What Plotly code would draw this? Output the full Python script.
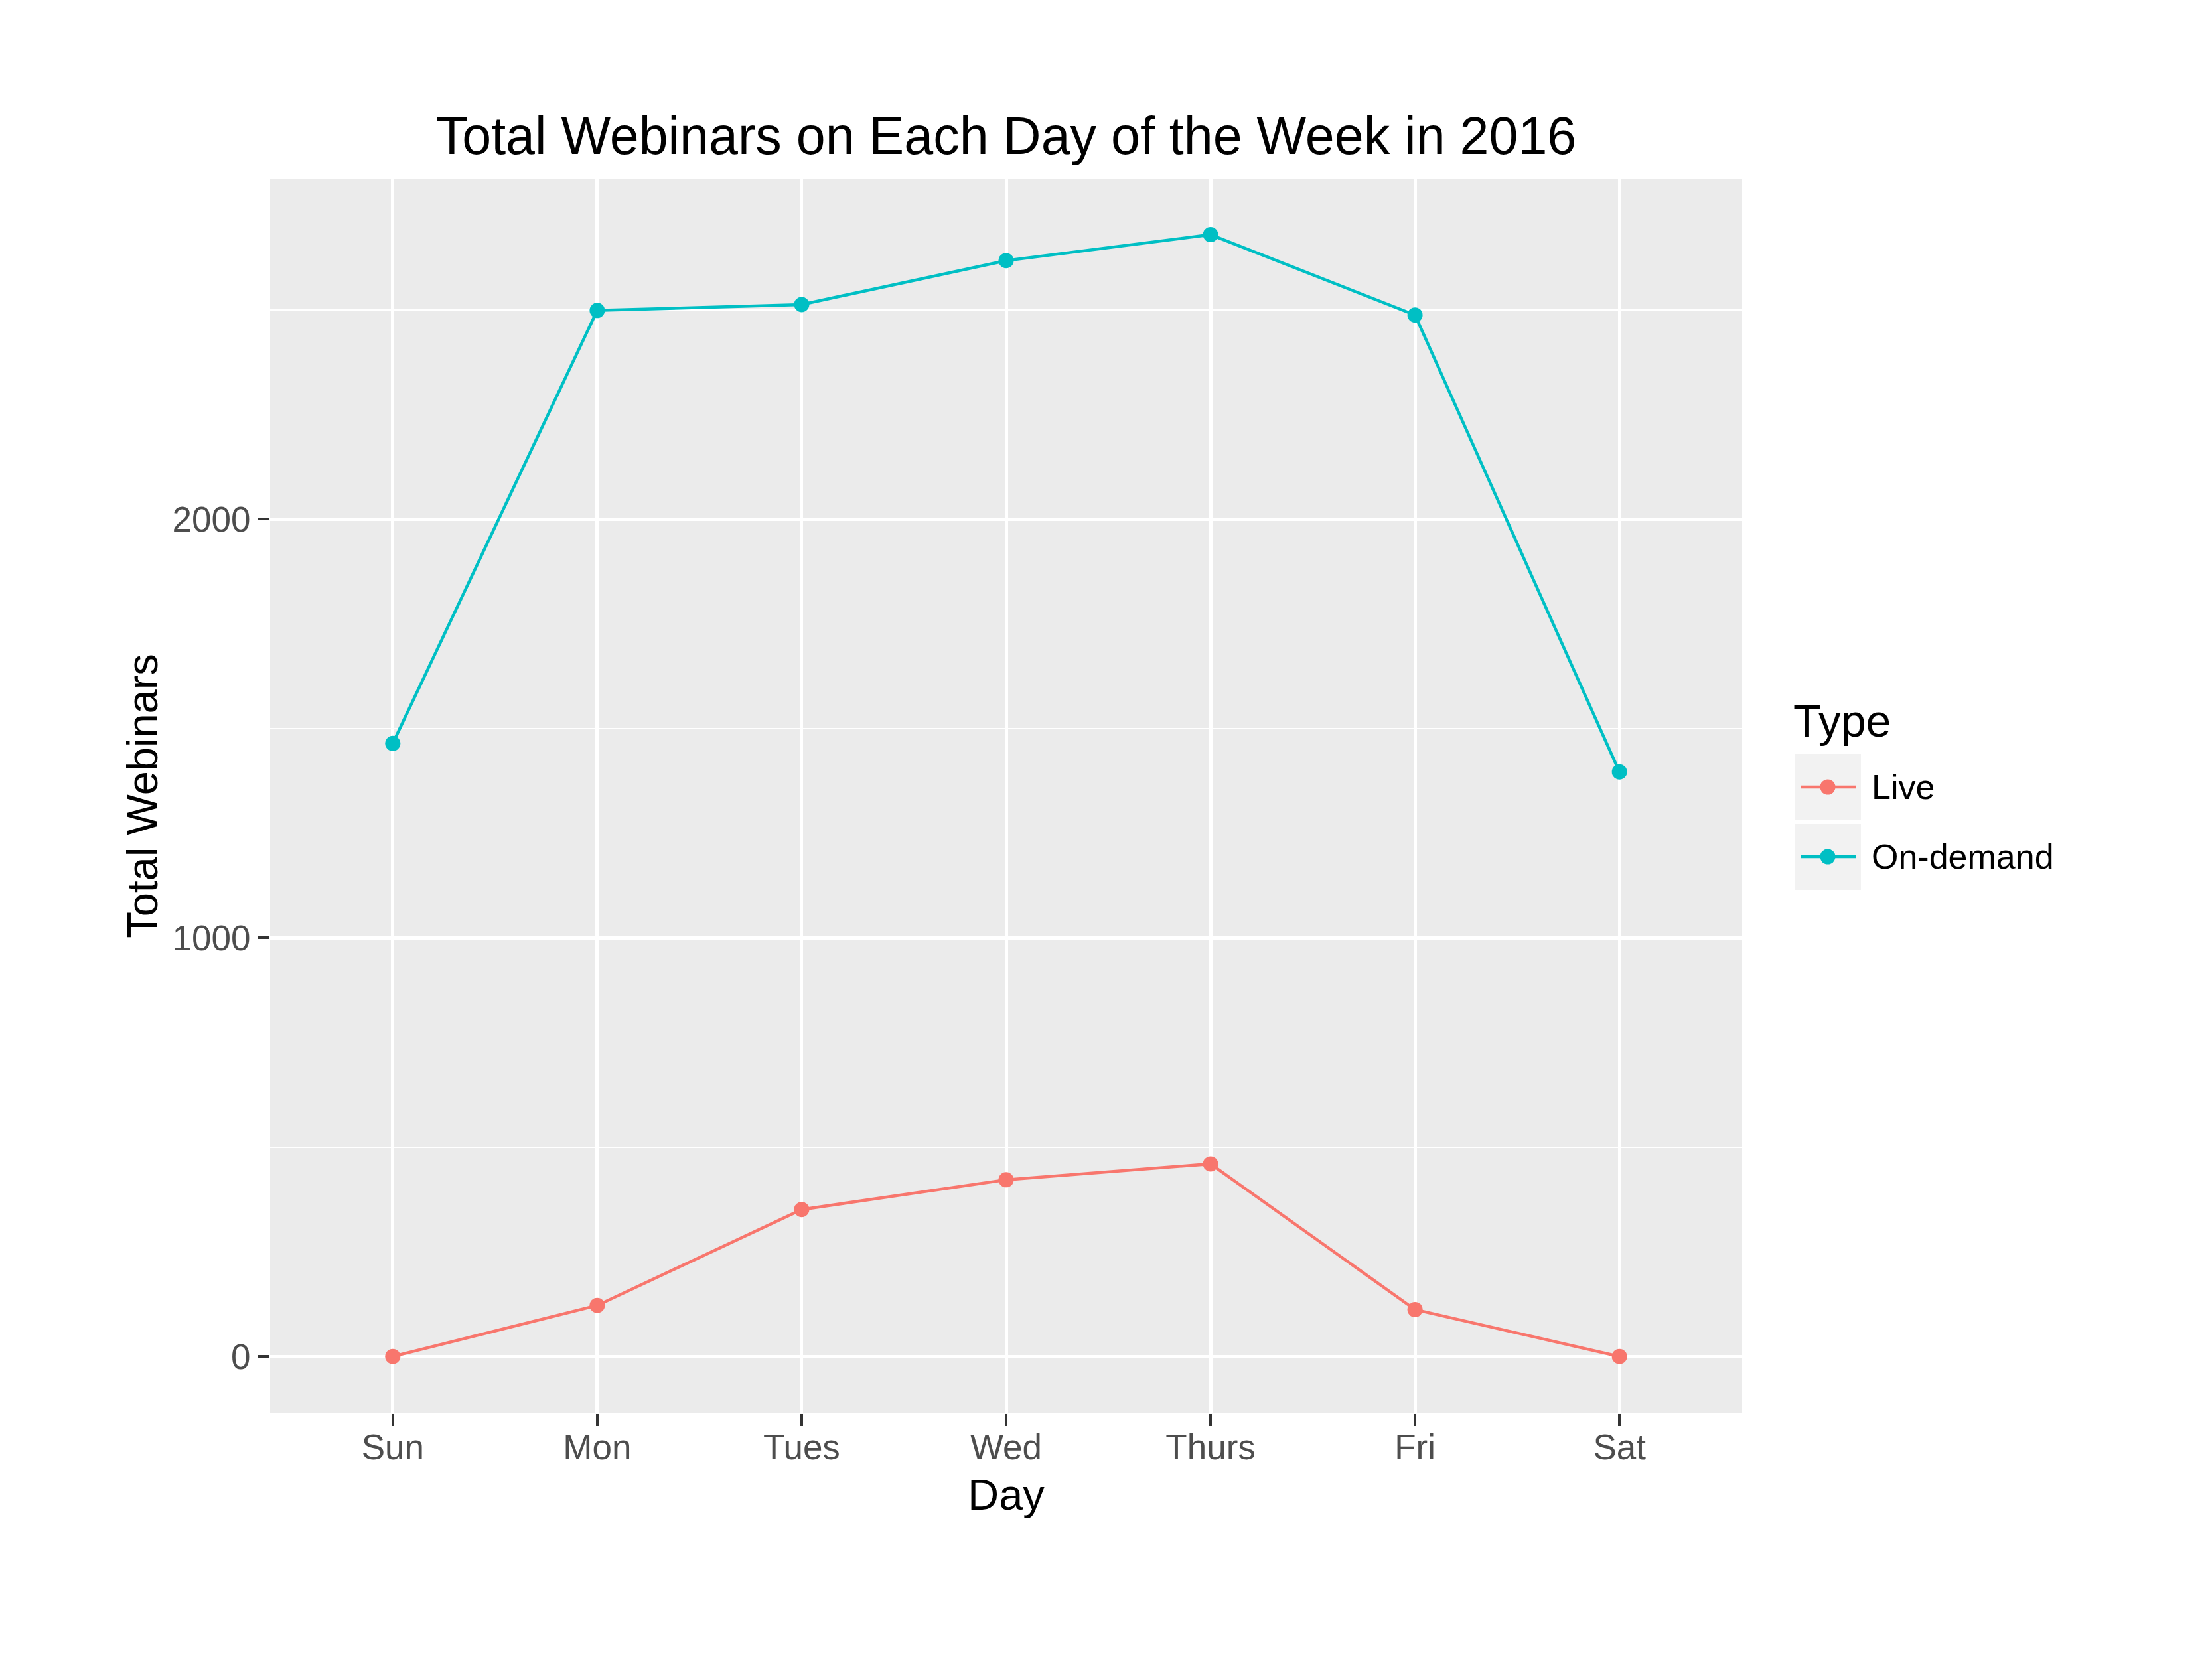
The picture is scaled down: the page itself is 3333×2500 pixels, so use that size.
import plotly.graph_objects as go

days = ["Sun", "Mon", "Tues", "Wed", "Thurs", "Fri", "Sat"]
live = [0, 122, 351, 422, 460, 112, 0]
on_demand = [1464, 2498, 2512, 2617, 2679, 2487, 1396]
series_names = ["Live", "On-demand"]
series_colors = ["#F8766D", "#00BFC4"]
y_ticks = [0, 1000, 2000]

FONT = "Liberation Sans, Arial, sans-serif"
W, H = 3333, 2500
OFF = 8  # page body margin
# plot panel in page pixels
PL, PR, PT, PB = 407, 2625, 269, 2130
L, R, T, B = PL - OFF, PR - OFF, PT - OFF, PB - OFF


def px(X):
    return (X - OFF - L) / (R - L)


def py(Y):
    return (B - (Y - OFF)) / (B - T)


fig = go.Figure()
for name, vals, col in zip(series_names, [live, on_demand], series_colors):
    fig.add_trace(go.Scatter(
        x=days, y=vals, name=name, mode="lines+markers",
        line=dict(color=col, width=4.5),
        marker=dict(color=col, size=23),
        showlegend=False,
    ))

# manual ggplot-style legend
shapes = []
annotations = []
annotations.append(dict(text="Type", x=px(2700), y=py(1086), xref="paper", yref="paper",
                        xanchor="left", yanchor="middle", showarrow=False,
                        font=dict(size=68, color="black", family=FONT)))
key_tops = [1136, 1241]
for name, col, top in zip(series_names, series_colors, key_tops):
    cy = top + 50
    shapes.append(dict(type="rect", xref="paper", yref="paper",
                       x0=px(2704), x1=px(2804), y0=py(top), y1=py(top + 100),
                       fillcolor="#F2F2F2", line=dict(width=0), layer="above"))
    shapes.append(dict(type="line", xref="paper", yref="paper",
                       x0=px(2713), x1=px(2797), y0=py(cy), y1=py(cy),
                       line=dict(color=col, width=4.5), layer="above"))
    shapes.append(dict(type="circle", xref="paper", yref="paper",
                       xsizemode="pixel", ysizemode="pixel",
                       xanchor=px(2754), yanchor=py(cy),
                       x0=-11.5, x1=11.5, y0=-11.5, y1=11.5,
                       fillcolor=col, line=dict(width=0), layer="above"))
    annotations.append(dict(text=name, x=px(2818), y=py(cy), xref="paper", yref="paper",
                            xanchor="left", yanchor="middle", showarrow=False,
                            font=dict(size=52, color="black", family=FONT)))

fig.update_layout(
    width=W, height=H,
    margin=dict(l=L, r=W - R, t=T, b=H - B, pad=0),
    paper_bgcolor="white",
    plot_bgcolor="#EBEBEB",
    font=dict(family=FONT, color="black"),
    title=dict(text="Total Webinars on Each Day of the Week in 2016",
               font=dict(size=79, color="black", family=FONT),
               x=0.5, xref="paper", xanchor="center",
               y=1 - (204 - OFF) / H, yref="container", yanchor="middle"),
    showlegend=False,
    shapes=shapes,
    annotations=annotations,
)

fig.update_xaxes(
    type="category", categoryorder="array", categoryarray=days,
    range=[-0.6, 6.6],
    showgrid=True, gridcolor="white", gridwidth=4.5,
    zeroline=False, showline=False,
    ticks="outside", ticklen=18, tickwidth=4, tickcolor="#333333",
    ticklabelstandoff=-14,
    tickfont=dict(size=53, color="#4D4D4D", family=FONT),
    title=dict(text="Day", font=dict(size=65, color="black", family=FONT), standoff=20),
)
fig.update_yaxes(
    range=[-136, 2813],
    tickvals=y_ticks, ticktext=[str(v) for v in y_ticks],
    showgrid=True, gridcolor="white", gridwidth=4.5,
    minor=dict(dtick=500, tick0=0, showgrid=True, gridcolor="white", gridwidth=2.3, ticks=""),
    zeroline=False, showline=False,
    ticks="outside", ticklen=18, tickwidth=4, tickcolor="#333333",
    tickfont=dict(size=53, color="#4D4D4D", family=FONT),
    title=dict(text="Total Webinars", font=dict(size=65, color="black", family=FONT), standoff=0),
)

fig.write_html("out.html")
